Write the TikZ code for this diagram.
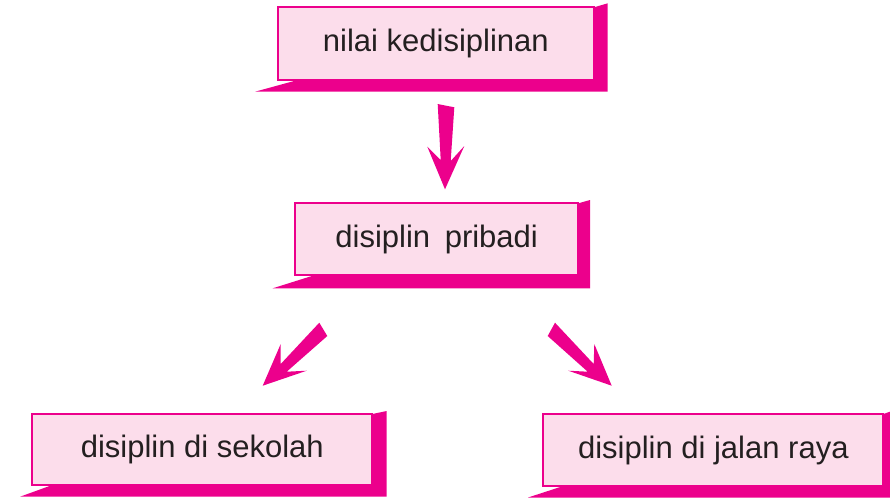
\documentclass[tikz,border=0pt]{standalone}
\usepackage{fontspec}
\setmainfont{Liberation Sans}
\definecolor{mag}{HTML}{EC008C}
\definecolor{lpink}{HTML}{FCDDEB}
\definecolor{txt}{HTML}{231F20}
\tikzset{
  pbox/.style={draw=mag, line width=1.7pt, fill=lpink, inner sep=0pt, outer sep=0pt,
    text=txt, font=\fontsize{31}{36}\selectfont},
  shadowfill/.style={fill=mag, draw=none},
  fatarrow/.style={fill=mag, draw=none}
}
% #1 name, #2 L, #3 T, #4 R, #5 B, #6 Rs, #7 Ts, #8 Bs, #9 Lp
\newcommand\pinkshadow[9]{%
  \fill[shadowfill] (#9,#8) -- ({#2+20},#5) -- (#4,#5) -- (#4,#3) -- (#6,#7) -- (#6,#8) -- cycle;
}
\begin{document}
\begin{tikzpicture}[x=1pt,y=-1pt]
\useasboundingbox (0,0) rectangle (890,499);
% top box
\pinkshadow{t}{277.7}{7.3}{594}{80}{607.7}{3.3}{91.7}{255}
\node[pbox, minimum width=316.3pt, minimum height=72.7pt] (top) at (435.85,43.65) {nilai kedisiplinan};
% middle box
\pinkshadow{m}{295}{203.3}{578.3}{275}{590}{200}{288.3}{272.7}
\node[pbox, minimum width=283.3pt, minimum height=71.7pt] (mid) at (436.65,239.15) {disiplin\hspace{6pt} pribadi};
% left box
\pinkshadow{l}{32.3}{414}{372.3}{485}{386.7}{411}{496.7}{20}
\node[pbox, minimum width=340pt, minimum height=71pt] (left) at (202.3,449.5) {disiplin di sekolah};
% right box
\pinkshadow{r}{543.3}{414}{883.3}{486}{890}{411.7}{497.5}{528}
\node[pbox, minimum width=340pt, minimum height=72pt] (right) at (713.3,450) {disiplin di jalan raya};
% arrows
\fill[fatarrow] (437.7,104) -- (454.3,107.3) -- (450.7,161) -- (464.3,146) -- (445,189.3) -- (427.3,146.7) -- (440.7,160) -- cycle;
\fill[fatarrow] (319.3,322.7) -- (327.3,336) -- (286.7,371.7) -- (306.7,370.7) -- (262.7,385.7) -- (280.7,344) -- (280.7,364) -- cycle;
\fill[fatarrow] (555,322.7) -- (547.7,336) -- (587.7,371.7) -- (568.3,370.7) -- (611.7,385.7) -- (594.3,344) -- (593.7,364) -- cycle;
\end{tikzpicture}
\end{document}
